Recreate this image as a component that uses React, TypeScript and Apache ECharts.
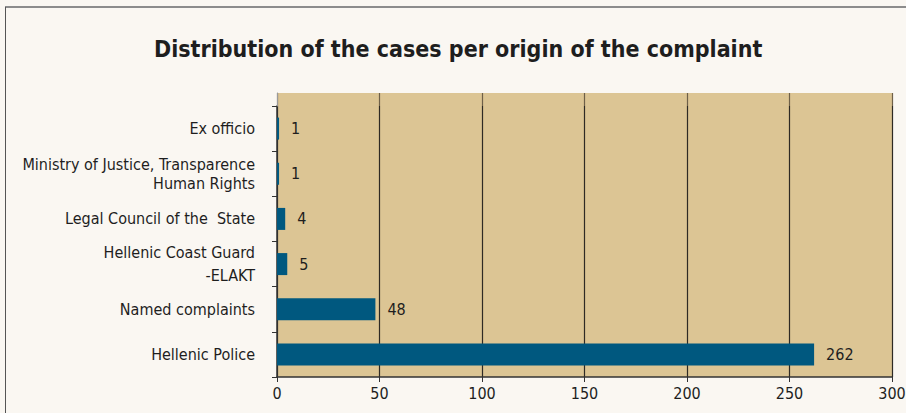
import React, { useEffect, useRef } from "react";
import * as echarts from "echarts";

const categories = [
  "Hellenic Police",
  "Named complaints",
  "Hellenic Coast Guard\n-ELAKT",
  "Legal Council of the  State",
  "Ministry of Justice, Transparence\nHuman Rights",
  "Ex officio",
];
const values = [262, 48, 5, 4, 1, 1];
const xTicks = { min: 0, max: 300, interval: 50 };
const title = "Distribution of the cases per origin of the complaint";

const FONT = '"DejaVu Sans Condensed", "Roboto", sans-serif';

export default function App() {
  const ref = useRef<HTMLDivElement>(null);
  useEffect(() => {
    document.body.style.margin = "0";
    const chart = echarts.init(ref.current!, null, { renderer: "svg" });
    chart.setOption({
      animation: false,
      backgroundColor: "#faf7f2",
      title: {
        text: title,
        left: 149,
        top: 32,
        textStyle: { fontFamily: FONT, fontWeight: "bold", fontSize: 23, color: "#1e1e1e" },
      },
      graphic: [
        { type: "line", shape: { x1: 5, y1: 7, x2: 906, y2: 7 }, style: { stroke: "#8c8c8c", lineWidth: 2 } },
        { type: "line", shape: { x1: 5.5, y1: 7, x2: 5.5, y2: 413 }, style: { stroke: "#555", lineWidth: 1 } },
      ],
      grid: [
        { left: 277, right: 14, top: 106, bottom: 36, show: true, backgroundColor: "#dcc594", borderWidth: 0, outerBoundsMode: "none", containLabel: false },
        { left: 277, right: 14, top: 93, height: 13, show: true, backgroundColor: "#dcc594", borderWidth: 0, outerBoundsMode: "none", containLabel: false },
      ],
      xAxis: [
        {
          type: "value",
          gridIndex: 0,
          min: xTicks.min,
          max: xTicks.max,
          interval: xTicks.interval,
          axisLine: { show: true, lineStyle: { color: "#333", width: 1.5 } },
          axisTick: { show: true, length: 5, lineStyle: { color: "#333" } },
          axisLabel: { fontFamily: FONT, fontSize: 16, color: "#1e1e1e", margin: 8 },
          splitLine: { show: true, lineStyle: { color: "#2e2a24", width: 1.2 } },
        },
        {
          type: "value",
          gridIndex: 1,
          min: xTicks.min,
          max: xTicks.max,
          interval: xTicks.interval,
          axisLine: { show: false },
          axisTick: { show: false },
          axisLabel: { show: false },
          splitLine: { show: true, lineStyle: { color: "#6e6048", width: 1.2 } },
        },
      ],
      yAxis: [
        {
          type: "category",
          gridIndex: 0,
          data: categories,
          axisLine: { show: true, lineStyle: { color: "#333", width: 1.5 } },
          axisTick: { show: true, length: 5, lineStyle: { color: "#333" } },
          axisLabel: {
            fontFamily: FONT,
            fontSize: 16,
            color: "#1e1e1e",
            margin: 22,
            align: "right",
            formatter: (v: string) => (v.indexOf("ELAKT") >= 0 ? `{b|${v.replace("\n", "}\n{b|")}}` : `{a|${v.replace("\n", "}\n{a|")}}`),
            rich: {
              a: { fontFamily: FONT, fontSize: 16, color: "#1e1e1e", lineHeight: 19 },
              b: { fontFamily: FONT, fontSize: 16, color: "#1e1e1e", lineHeight: 23 },
            },
          },
          splitLine: { show: false },
        },
        {
          type: "category",
          gridIndex: 1,
          data: [""],
          axisLine: { show: true, lineStyle: { color: "#9a9a9a", width: 1 } },
          axisTick: { show: false },
          axisLabel: { show: false },
        },
      ],
      series: [
        {
          type: "bar",
          xAxisIndex: 0,
          yAxisIndex: 0,
          data: values,
          barWidth: 22,
          itemStyle: { color: "#00587f" },
          label: {
            show: true,
            position: "right",
            distance: 12,
            fontFamily: FONT,
            fontSize: 16,
            color: "#1e1e1e",
          },
        },
      ],
    });
    return () => chart.dispose();
  }, []);
  return <div ref={ref} style={{ width: 906, height: 413 }} />;
}
